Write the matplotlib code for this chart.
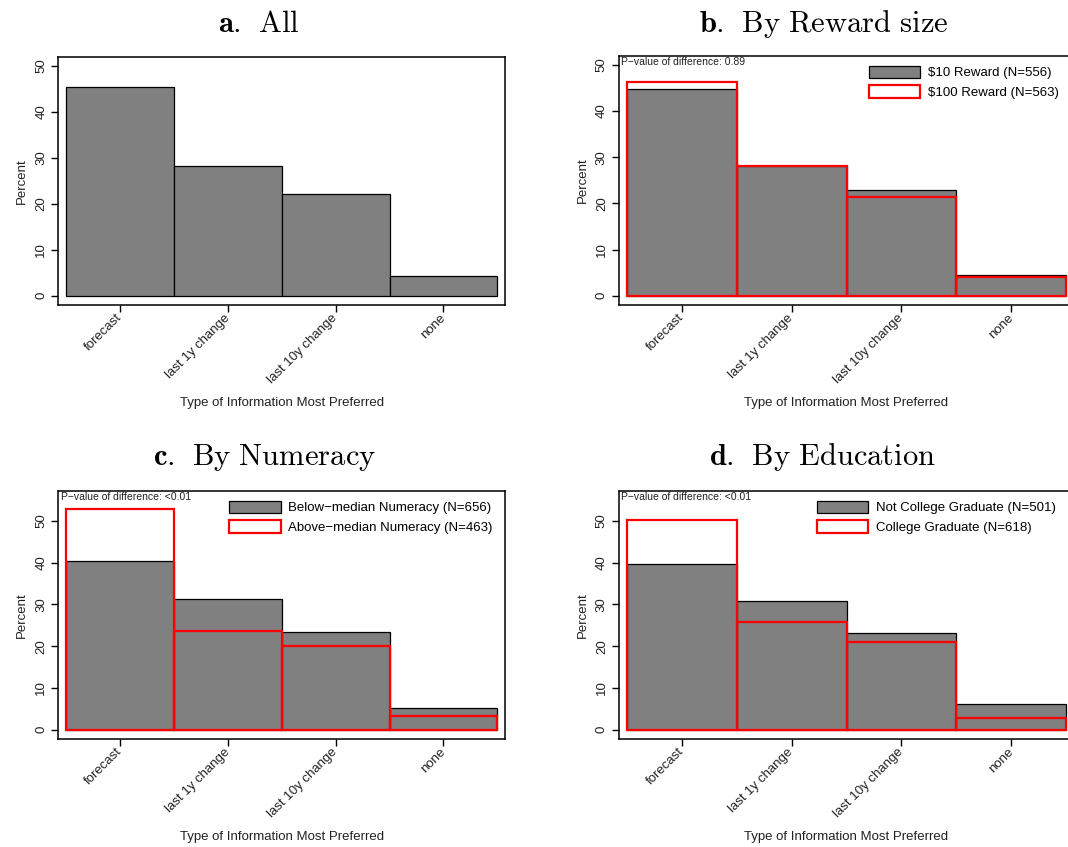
import matplotlib
matplotlib.use("Agg")
import matplotlib.pyplot as plt
from matplotlib.patches import Patch

plt.rcParams['font.family'] = ['Liberation Sans', 'DejaVu Sans']
plt.rcParams['mathtext.fontset'] = 'cm'

categories = ['forecast', 'last 1y change', 'last 10y change', 'none']
yticks = [0, 10, 20, 30, 40, 50]

# panel a: all respondents
all_pct = [45.5, 28.2, 22.1, 4.3]

# panel b: reward size
reward10 = [44.7, 28.1, 22.9, 4.5]
reward100 = [46.4, 28.1, 21.4, 4.1]
reward_labels = ['$10 Reward (N=556)', '$100 Reward (N=563)']
reward_p = 'P\u2212value of difference: 0.89'

# panel c: numeracy
num_low = [40.3, 31.2, 23.4, 5.1]
num_high = [52.9, 23.7, 20.1, 3.2]
num_labels = ['Below\u2212median Numeracy (N=656)', 'Above\u2212median Numeracy (N=463)']
num_p = 'P\u2212value of difference: <0.01'

# panel d: education
edu_no = [39.7, 30.9, 23.1, 6.1]
edu_yes = [50.2, 25.9, 21.1, 2.8]
edu_labels = ['Not College Graduate (N=501)', 'College Graduate (N=618)']
edu_p = 'P\u2212value of difference: <0.01'

W, H = 1068, 847
fig = plt.figure(figsize=(W / 100, H / 100), dpi=100)

GRAY = '#808080'
RED = '#ff0000'
FS = 9.5


def make_axes(left, top, width, height, ylim):
    ax = fig.add_axes([left / W, 1 - (top + height) / H, width / W, height / H])
    ax.set_xlim(0.43, 4.57)
    ax.set_ylim(*ylim)
    ax.set_xticks(range(1, 5))
    ax.set_xticklabels(categories, rotation=45, ha='right', va='center',
                       rotation_mode='anchor', fontsize=FS, color='#222222')
    ax.set_yticks(yticks)
    ax.set_yticklabels([str(t) for t in yticks], rotation=90, va='center',
                       fontsize=FS, color='#222222')
    ax.tick_params(length=5, width=1, pad=3, color='black')
    for s in ax.spines.values():
        s.set_linewidth(1.1)
    ax.set_ylabel('Percent', fontsize=FS, va='center', color='#222222')
    ax.yaxis.set_label_coords(-36 / width, 0.5)
    ax.set_xlabel('Type of Information Most Preferred', fontsize=FS, va='center',
                  color='#222222')
    ax.xaxis.set_label_coords(0.5, -98 / height)
    return ax


def draw_pair(ax, base, other, labels, ptext, leg_x):
    x = list(range(1, 5))
    ax.bar(x, base, width=1, color=GRAY, edgecolor='black', linewidth=0.9)
    ax.bar(x, other, width=1, fill=False, edgecolor=RED, linewidth=1.6)
    ax.text(0.005, 0.993, ptext, transform=ax.transAxes, ha='left', va='top',
            fontsize=7.5, color='#222222')
    handles = [Patch(facecolor=GRAY, edgecolor='black', linewidth=0.9),
               Patch(facecolor='white', edgecolor=RED, linewidth=1.6)]
    ax.legend(handles, labels, loc='upper left', bbox_to_anchor=(leg_x, 0.96),
              frameon=False, fontsize=FS, handlelength=3.9, handleheight=1.1,
              handletextpad=0.55, labelspacing=0.42, borderpad=0, borderaxespad=0)


# a. All
ax_a = make_axes(58.3, 56.7, 446.7, 248.3, (-2, 52))
ax_a.bar(range(1, 5), all_pct, width=1, color=GRAY, edgecolor='black', linewidth=0.9)

# b. By Reward size
ax_b = make_axes(619, 55.7, 455, 249.3, (-2, 52))
draw_pair(ax_b, reward10, reward100, reward_labels, reward_p, 0.549)

# c. By Numeracy
ax_c = make_axes(58.3, 490.7, 446.7, 248.3, (-2.2, 57.2))
draw_pair(ax_c, num_low, num_high, num_labels, num_p, 0.383)

# d. By Education
ax_d = make_axes(619, 490.7, 455, 248.3, (-2.2, 57.2))
draw_pair(ax_d, edu_no, edu_yes, edu_labels, edu_p, 0.435)

titles = [(259, 32, r'$\mathbf{a.}\;\,\mathrm{All}$'),
          (824, 32, r'$\mathbf{b.}\;\,\mathrm{By\ Reward\ size}$'),
          (265, 465, r'$\mathbf{c.}\;\,\mathrm{By\ Numeracy}$'),
          (822, 465, r'$\mathbf{d.}\;\,\mathrm{By\ Education}$')]
for tx, ty, t in titles:
    fig.text(tx / W, 1 - ty / H, t, ha='center', va='baseline', fontsize=22)

fig.savefig('out.png', dpi=100)
